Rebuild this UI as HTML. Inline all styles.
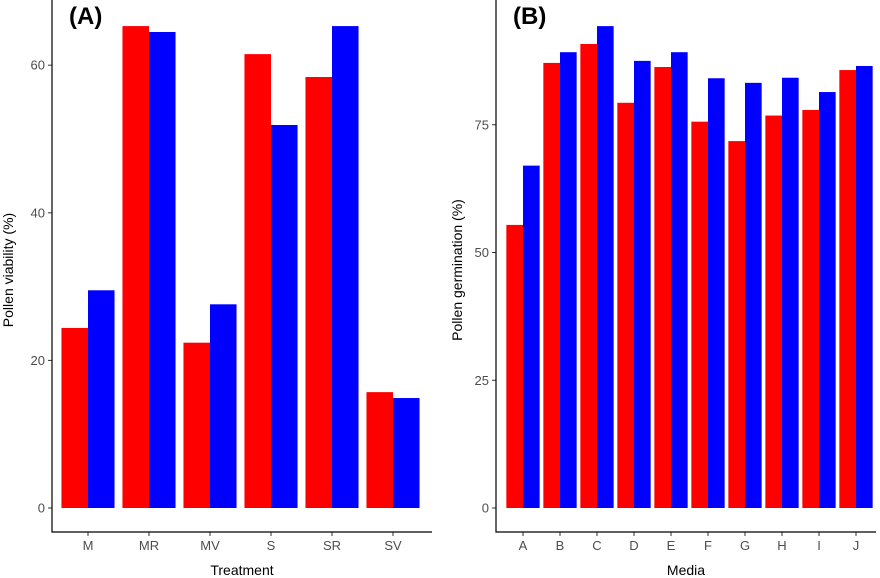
<!DOCTYPE html>
<html><head><meta charset="utf-8">
<style>
body{margin:0;background:#fff;}
svg{display:block;font-family:"Liberation Sans",Arial,sans-serif;}
.tick{font-size:13px;fill:#4d4d4d;}
.title{font-size:14px;fill:#000;}
</style></head>
<body>
<svg id="chart" width="880" height="578"></svg>
<script>
const catsA = ["M","MR","MV","S","SR","SV"];
const redA = [24.4,65.3,22.4,61.5,58.4,15.7];
const blueA = [29.5,64.5,27.6,51.9,65.3,14.9];
const ticksA = [0,20,40,60];
const catsB = ["A","B","C","D","E","F","G","H","I","J"];
const redB = [55.4,87.1,90.8,79.3,86.3,75.6,71.8,76.8,77.9,85.7];
const blueB = [67.0,89.2,94.3,87.5,89.2,84.1,83.2,84.2,81.4,86.5];
const ticksB = [0,25,50,75];

const NS="http://www.w3.org/2000/svg";
const svg=document.getElementById('chart');
function mk(tag,attrs,parent){const e=document.createElementNS(NS,tag);for(const k in attrs)e.setAttribute(k,attrs[k]);(parent||svg).appendChild(e);return e;}

function panel(cfg){
  const g=mk('g',{});
  
  
  const y=v=>cfg.y0-v*cfg.pxPer;
  const step=(cfg.c1-cfg.c0)/(cfg.cats.length-1);
  const x=i=>cfg.c0+step*i;
  const bw=step*cfg.bf/2;
  cfg.cats.forEach((c,i)=>{
    const r=mk('rect',{x:x(i)-bw,y:y(cfg.red[i]),width:bw,height:cfg.y0-y(cfg.red[i]),fill:'#ff0000'},g);
    
    
    const b=mk('rect',{x:x(i),y:y(cfg.blue[i]),width:bw,height:cfg.y0-y(cfg.blue[i]),fill:'#0000ff'},g);
    
    
    mk('line',{x1:x(i),x2:x(i),y1:cfg.axisY,y2:cfg.axisY+4,stroke:'#333','stroke-width':1},g);
    const t=mk('text',{x:x(i),y:cfg.axisY+18,'text-anchor':'middle',class:'tick'},g);
    t.textContent=c;
    
    
  });
  cfg.ticks.forEach(v=>{
    mk('line',{x1:cfg.x0-4,x2:cfg.x0,y1:y(v),y2:y(v),stroke:'#333','stroke-width':1},g);
    const t=mk('text',{x:cfg.x0-7,y:y(v)+4.5,'text-anchor':'end',class:'tick'},g);
    t.textContent=v;
    
    
  });
  const ax=mk('path',{d:`M${cfg.x0},0 V${cfg.axisY} H${cfg.x1}`,fill:'none',stroke:'#000','stroke-width':1.2},g);
  
  
  const xt=mk('text',{x:(cfg.x0+cfg.x1)/2,y:575,'text-anchor':'middle',class:'title'},g);
  xt.textContent=cfg.xtitle;
  
  
  const yt=mk('text',{x:0,y:0,'text-anchor':'middle',class:'title',transform:`translate(${cfg.ytx},270) rotate(-90)`},g);
  yt.textContent=cfg.ytitle;
  
  
  const pl=mk('text',{x:cfg.x0+17,y:24,'font-size':'24','font-weight':'bold',fill:'#000'},g);
  pl.textContent=cfg.label;
  
  
}
panel({name:'panel-a',cats:catsA,red:redA,blue:blueA,ticks:ticksA,x0:52,x1:432,c0:88,c1:393,bf:0.87,y0:508,axisY:532,pxPer:7.38,xtitle:'Treatment',ytitle:'Pollen viability (%)',ytx:13,label:'(A)'});
panel({name:'panel-b',cats:catsB,red:redB,blue:blueB,ticks:ticksB,x0:496,x1:876,c0:523,c1:856,bf:0.9,y0:508,axisY:532,pxPer:5.11,xtitle:'Media',ytitle:'Pollen germination (%)',ytx:462,label:'(B)'});
</script>
</body></html>
